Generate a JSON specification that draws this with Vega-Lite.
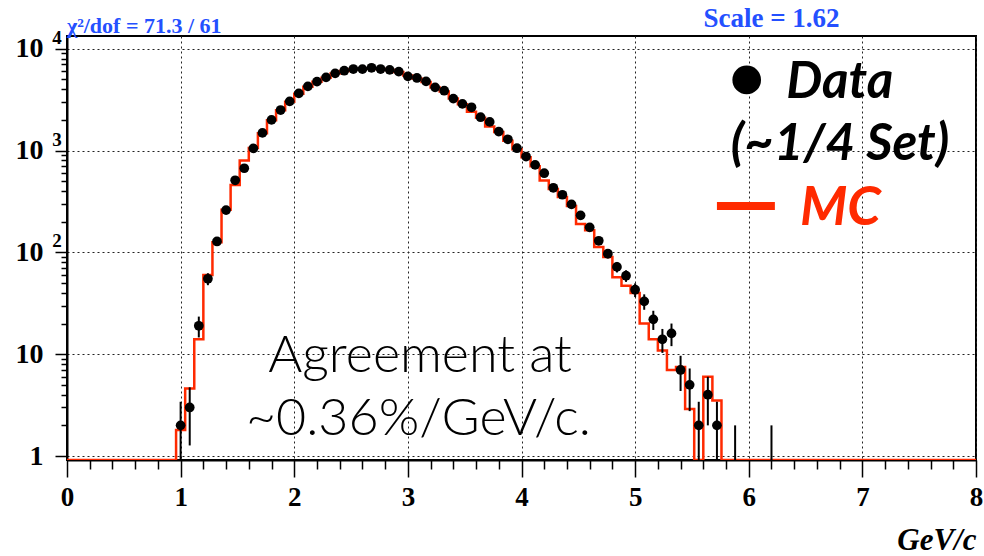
{
  "$schema": "https://vega.github.io/schema/vega-lite/v6.json",
  "width": 909,
  "height": 424,
  "autosize": {"type": "none"},
  "padding": {"left": 67, "top": 36, "right": 8, "bottom": 96},
  "background": "white",
  "config": {
    "view": {"stroke": "black", "strokeWidth": 2},
    "axis": {
      "domainColor": "black", "domainWidth": 2, "tickColor": "black",
      "labelColor": "black", "labelFont": "Liberation Serif", "labelFontWeight": "bold",
      "gridColor": "#222222", "gridDash": [2, 3], "gridWidth": 1
    }
  },
  "datasets": {
    "pts": [
      {"x":1.00,"count":2,"lo":0.59,"hi":3.41},
      {"x":1.08,"count":3,"lo":1.27,"hi":4.73},
      {"x":1.16,"count":19,"lo":14.6,"hi":23.4},
      {"x":1.24,"count":55,"lo":47.6,"hi":62.4},
      {"x":1.32,"count":128,"lo":116.7,"hi":139.3},
      {"x":1.40,"count":260,"lo":243.9,"hi":276.1},
      {"x":1.48,"count":510,"lo":487.4,"hi":532.6},
      {"x":1.56,"count":670,"lo":644.1,"hi":695.9},
      {"x":1.64,"count":1050,"lo":1017.6,"hi":1082.4},
      {"x":1.72,"count":1490,"lo":1451.4,"hi":1528.6},
      {"x":1.80,"count":2000,"lo":1955.3,"hi":2044.7},
      {"x":1.88,"count":2500,"lo":2450,"hi":2550},
      {"x":1.96,"count":3040,"lo":2984.9,"hi":3095.1},
      {"x":2.04,"count":3640,"lo":3579.7,"hi":3700.3},
      {"x":2.12,"count":4270,"lo":4204.7,"hi":4335.3},
      {"x":2.20,"count":4750,"lo":4681.1,"hi":4818.9},
      {"x":2.28,"count":5230,"lo":5157.7,"hi":5302.3},
      {"x":2.36,"count":5730,"lo":5654.3,"hi":5805.7},
      {"x":2.44,"count":6080,"lo":6002,"hi":6158},
      {"x":2.52,"count":6320,"lo":6240.5,"hi":6399.5},
      {"x":2.60,"count":6300,"lo":6220.6,"hi":6379.4},
      {"x":2.68,"count":6500,"lo":6419.4,"hi":6580.6},
      {"x":2.76,"count":6320,"lo":6240.5,"hi":6399.5},
      {"x":2.84,"count":6200,"lo":6121.3,"hi":6278.7},
      {"x":2.92,"count":5950,"lo":5872.9,"hi":6027.1},
      {"x":3.00,"count":5350,"lo":5276.9,"hi":5423.1},
      {"x":3.08,"count":5160,"lo":5088.2,"hi":5231.8},
      {"x":3.16,"count":4780,"lo":4710.9,"hi":4849.1},
      {"x":3.24,"count":4175,"lo":4110.4,"hi":4239.6},
      {"x":3.32,"count":3870,"lo":3807.8,"hi":3932.2},
      {"x":3.40,"count":3235,"lo":3178.1,"hi":3291.9},
      {"x":3.48,"count":2870,"lo":2816.4,"hi":2923.6},
      {"x":3.56,"count":2660,"lo":2608.4,"hi":2711.6},
      {"x":3.64,"count":2124,"lo":2077.9,"hi":2170.1},
      {"x":3.72,"count":1910,"lo":1866.3,"hi":1953.7},
      {"x":3.80,"count":1535,"lo":1495.8,"hi":1574.2},
      {"x":3.88,"count":1290,"lo":1254.1,"hi":1325.9},
      {"x":3.96,"count":1054,"lo":1021.5,"hi":1086.5},
      {"x":4.04,"count":873,"lo":843.5,"hi":902.5},
      {"x":4.12,"count":724,"lo":697.1,"hi":750.9},
      {"x":4.20,"count":599,"lo":574.5,"hi":623.5},
      {"x":4.28,"count":431,"lo":410.2,"hi":451.8},
      {"x":4.36,"count":368,"lo":348.8,"hi":387.2},
      {"x":4.44,"count":296,"lo":278.8,"hi":313.2},
      {"x":4.52,"count":231,"lo":215.8,"hi":246.2},
      {"x":4.60,"count":176,"lo":162.7,"hi":189.3},
      {"x":4.68,"count":130,"lo":118.6,"hi":141.4},
      {"x":4.76,"count":97,"lo":87.2,"hi":106.8},
      {"x":4.84,"count":72,"lo":63.5,"hi":80.5},
      {"x":4.92,"count":59,"lo":51.3,"hi":66.7},
      {"x":5.00,"count":43,"lo":36.4,"hi":49.6},
      {"x":5.08,"count":33,"lo":27.3,"hi":38.7},
      {"x":5.16,"count":22,"lo":17.3,"hi":26.7},
      {"x":5.24,"count":14,"lo":10.3,"hi":17.7},
      {"x":5.32,"count":16,"lo":12,"hi":20},
      {"x":5.40,"count":7,"lo":4.35,"hi":9.65},
      {"x":5.48,"count":5,"lo":2.76,"hi":7.24},
      {"x":5.56,"count":2,"lo":0.59,"hi":3.41},
      {"x":5.64,"count":4,"lo":2,"hi":6},
      {"x":5.72,"count":2,"lo":0.59,"hi":3.41},
      {"x":5.88,"count":1,"lo":0,"hi":2},
      {"x":6.20,"count":1,"lo":0,"hi":2}
    ],
    "mc": [
      {"edge":0.00,"mc":0},
      {"edge":0.96,"mc":1.8},
      {"edge":1.04,"mc":4.6},
      {"edge":1.12,"mc":14},
      {"edge":1.20,"mc":60},
      {"edge":1.28,"mc":126},
      {"edge":1.36,"mc":262},
      {"edge":1.44,"mc":460},
      {"edge":1.52,"mc":800},
      {"edge":1.60,"mc":1060},
      {"edge":1.68,"mc":1480},
      {"edge":1.76,"mc":1980},
      {"edge":1.84,"mc":2480},
      {"edge":1.92,"mc":3020},
      {"edge":2.00,"mc":3620},
      {"edge":2.08,"mc":4230},
      {"edge":2.16,"mc":4730},
      {"edge":2.24,"mc":5200},
      {"edge":2.32,"mc":5700},
      {"edge":2.40,"mc":6050},
      {"edge":2.48,"mc":6280},
      {"edge":2.56,"mc":6350},
      {"edge":2.64,"mc":6420},
      {"edge":2.72,"mc":6330},
      {"edge":2.80,"mc":6180},
      {"edge":2.88,"mc":5900},
      {"edge":2.96,"mc":5450},
      {"edge":3.04,"mc":5100},
      {"edge":3.12,"mc":4720},
      {"edge":3.20,"mc":4150},
      {"edge":3.28,"mc":3800},
      {"edge":3.36,"mc":3250},
      {"edge":3.44,"mc":2850},
      {"edge":3.52,"mc":2400},
      {"edge":3.60,"mc":2100},
      {"edge":3.68,"mc":1720},
      {"edge":3.76,"mc":1520},
      {"edge":3.84,"mc":1250},
      {"edge":3.92,"mc":1030},
      {"edge":4.00,"mc":860},
      {"edge":4.08,"mc":700},
      {"edge":4.16,"mc":508},
      {"edge":4.24,"mc":420},
      {"edge":4.32,"mc":350},
      {"edge":4.40,"mc":285},
      {"edge":4.48,"mc":190},
      {"edge":4.56,"mc":165},
      {"edge":4.64,"mc":113},
      {"edge":4.72,"mc":90},
      {"edge":4.80,"mc":57},
      {"edge":4.88,"mc":47},
      {"edge":4.96,"mc":40},
      {"edge":5.04,"mc":20},
      {"edge":5.12,"mc":14},
      {"edge":5.20,"mc":10.9},
      {"edge":5.28,"mc":7},
      {"edge":5.36,"mc":7.5},
      {"edge":5.44,"mc":2.9},
      {"edge":5.52,"mc":0},
      {"edge":5.60,"mc":6},
      {"edge":5.68,"mc":3.5},
      {"edge":5.76,"mc":0},
      {"edge":8.00,"mc":0}
    ],
    "exps": [
      {"tick":100,"exp":"2"},
      {"tick":1000,"exp":"3"},
      {"tick":10000,"exp":"4"}
    ],
    "one": [{}]
  },
  "layer": [
    {
      "data": {"name": "mc"},
      "mark": {"type": "line", "interpolate": "step-after", "color": "#ff2a00", "strokeWidth": 2.5, "clip": true, "invalid": "show"},
      "encoding": {
        "x": {"field": "edge", "type": "quantitative",
          "scale": {"domain": [0, 8], "nice": false, "zero": false},
          "axis": {"orient": "bottom", "values": [0,1,2,3,4,5,6,7,8], "format": "d", "grid": true,
            "tickSize": 17, "tickWidth": 1.5, "labelFontSize": 27, "labelPadding": 7, "labelFlush": false,
            "title": "GeV/c", "titleFont": "Liberation Serif", "titleFontStyle": "italic", "titleFontWeight": "bold",
            "titleFontSize": 31, "titleColor": "black", "titleX": 909, "titleY": 89, "titleAlign": "right",
            "titleBaseline": "alphabetic", "titleAnchor": null}},
        "y": {"field": "mc", "type": "quantitative",
          "scale": {"type": "log", "domain": [0.914, 13330], "nice": false, "zero": false, "clamp": true},
          "axis": {"orient": "left", "values": [1,10,100,1000,10000], "grid": true,
            "tickSize": 12, "tickWidth": 1.5, "labelFontSize": 28, "labelPadding": 12,
            "labelExpr": "datum.value == 1 ? '1' : '10'", "labelBaseline": "middle", "title": null}}
      }
    },
    {
      "data": {"name": "pts"},
      "mark": {"type": "rule", "color": "black", "strokeWidth": 2, "clip": true, "invalid": "show"},
      "encoding": {
        "x": {"field": "x", "type": "quantitative",
          "scale": {"domain": [0, 8], "nice": false, "zero": false},
          "axis": {"orient": "bottom", "values": [0.2,0.4,0.6,0.8,1.2,1.4,1.6,1.8,2.2,2.4,2.6,2.8,3.2,3.4,3.6,3.8,4.2,4.4,4.6,4.8,5.2,5.4,5.6,5.8,6.2,6.4,6.6,6.8,7.2,7.4,7.6,7.8],
            "labels": false, "grid": false, "domain": false, "tickSize": 9, "tickWidth": 1.5, "title": null}},
        "y": {"field": "lo", "type": "quantitative",
          "scale": {"type": "log", "domain": [0.914, 13330], "nice": false, "zero": false, "clamp": true},
          "axis": {"orient": "left", "values": [2,3,4,5,6,7,8,9,20,30,40,50,60,70,80,90,200,300,400,500,600,700,800,900,2000,3000,4000,5000,6000,7000,8000,9000],
            "labels": false, "grid": false, "domain": false, "tickSize": 6, "tickWidth": 1.5, "title": null}},
        "y2": {"field": "hi"}
      }
    },
    {
      "data": {"name": "pts"},
      "transform": [{"filter": "datum.count > 1"}],
      "mark": {"type": "circle", "color": "black", "opacity": 1, "size": 95},
      "encoding": {
        "x": {"field": "x", "type": "quantitative", "axis": null},
        "y": {"field": "count", "type": "quantitative", "axis": null,
          "scale": {"type": "log", "domain": [0.914, 13330], "nice": false, "zero": false}}
      }
    },
    {
      "data": {"name": "exps"},
      "mark": {"type": "text", "font": "Liberation Serif", "fontWeight": "bold", "fontSize": 19, "align": "center", "baseline": "middle", "dx": -10, "dy": -11, "color": "black"},
      "encoding": {
        "x": {"datum": 0, "type": "quantitative", "axis": null},
        "y": {"field": "tick", "type": "quantitative", "axis": null,
          "scale": {"type": "log", "domain": [0.914, 13330], "nice": false, "zero": false}},
        "text": {"field": "exp"}
      }
    },
    {
      "data": {"name": "one"},
      "mark": {"type": "text", "font": "Liberation Serif", "fontWeight": "bold", "fontSize": 22, "align": "left", "baseline": "alphabetic", "color": "#2450ff"},
      "encoding": {
        "x": {"datum": 0, "type": "quantitative", "axis": null},
        "y": {"datum": 14300, "type": "quantitative", "axis": null,
          "scale": {"type": "log", "domain": [0.914, 13330], "nice": false, "zero": false}},
        "text": {"value": "χ²/dof = 71.3 / 61"}
      }
    },
    {
      "data": {"name": "one"},
      "mark": {"type": "text", "font": "Liberation Serif", "fontWeight": "bold", "fontSize": 27, "align": "center", "baseline": "alphabetic", "color": "#2450ff"},
      "encoding": {
        "x": {"datum": 6.2, "type": "quantitative", "axis": null},
        "y": {"datum": 16500, "type": "quantitative", "axis": null,
          "scale": {"type": "log", "domain": [0.914, 13330], "nice": false, "zero": false}},
        "text": {"value": "Scale = 1.62"}
      }
    },
    {
      "data": {"name": "one"},
      "mark": {"type": "circle", "color": "black", "opacity": 1, "size": 820},
      "encoding": {
        "x": {"datum": 5.982, "type": "quantitative", "axis": null},
        "y": {"datum": 4940, "type": "quantitative", "axis": null,
          "scale": {"type": "log", "domain": [0.914, 13330], "nice": false, "zero": false}}
      }
    },
    {
      "data": {"name": "one"},
      "mark": {"type": "text", "font": "Lato", "fontWeight": "bold", "fontStyle": "italic", "fontSize": 51, "align": "left", "baseline": "alphabetic", "color": "black"},
      "encoding": {
        "x": {"datum": 6.33, "type": "quantitative", "axis": null},
        "y": {"datum": 3288, "type": "quantitative", "axis": null,
          "scale": {"type": "log", "domain": [0.914, 13330], "nice": false, "zero": false}},
        "text": {"value": "Data"}
      }
    },
    {
      "data": {"name": "one"},
      "mark": {"type": "text", "font": "Lato", "fontWeight": "bold", "fontStyle": "italic", "fontSize": 51, "align": "center", "baseline": "alphabetic", "color": "black"},
      "encoding": {
        "x": {"datum": 6.803, "type": "quantitative", "axis": null},
        "y": {"datum": 809, "type": "quantitative", "axis": null,
          "scale": {"type": "log", "domain": [0.914, 13330], "nice": false, "zero": false}},
        "text": {"value": "(~1/4 Set)"}
      }
    },
    {
      "data": {"name": "one"},
      "mark": {"type": "rule", "color": "#ff2a00", "strokeWidth": 8},
      "encoding": {
        "x": {"datum": 5.72, "type": "quantitative", "axis": null},
        "x2": {"datum": 6.23},
        "y": {"datum": 286, "type": "quantitative", "axis": null,
          "scale": {"type": "log", "domain": [0.914, 13330], "nice": false, "zero": false}}
      }
    },
    {
      "data": {"name": "one"},
      "mark": {"type": "text", "font": "Lato", "fontWeight": "bold", "fontStyle": "italic", "fontSize": 54, "align": "left", "baseline": "alphabetic", "color": "#ff2a00"},
      "encoding": {
        "x": {"datum": 6.45, "type": "quantitative", "axis": null},
        "y": {"datum": 186, "type": "quantitative", "axis": null,
          "scale": {"type": "log", "domain": [0.914, 13330], "nice": false, "zero": false}},
        "text": {"value": "MC"}
      }
    },
    {
      "data": {"name": "one"},
      "mark": {"type": "text", "font": "Lato", "fontWeight": 300, "fontSize": 52, "align": "center", "baseline": "alphabetic", "color": "black"},
      "encoding": {
        "x": {"datum": 3.107, "type": "quantitative", "axis": null},
        "y": {"datum": 6.69, "type": "quantitative", "axis": null,
          "scale": {"type": "log", "domain": [0.914, 13330], "nice": false, "zero": false}},
        "text": {"value": "Agreement at"}
      }
    },
    {
      "data": {"name": "one"},
      "mark": {"type": "text", "font": "Lato", "fontWeight": 300, "fontSize": 52, "align": "center", "baseline": "alphabetic", "color": "black"},
      "encoding": {
        "x": {"datum": 3.093, "type": "quantitative", "axis": null},
        "y": {"datum": 1.61, "type": "quantitative", "axis": null,
          "scale": {"type": "log", "domain": [0.914, 13330], "nice": false, "zero": false}},
        "text": {"value": "~0.36%/GeV/c."}
      }
    }
  ],
  "resolve": {"scale": {"y": "independent"}, "axis": {"x": "independent", "y": "independent"}}
}
